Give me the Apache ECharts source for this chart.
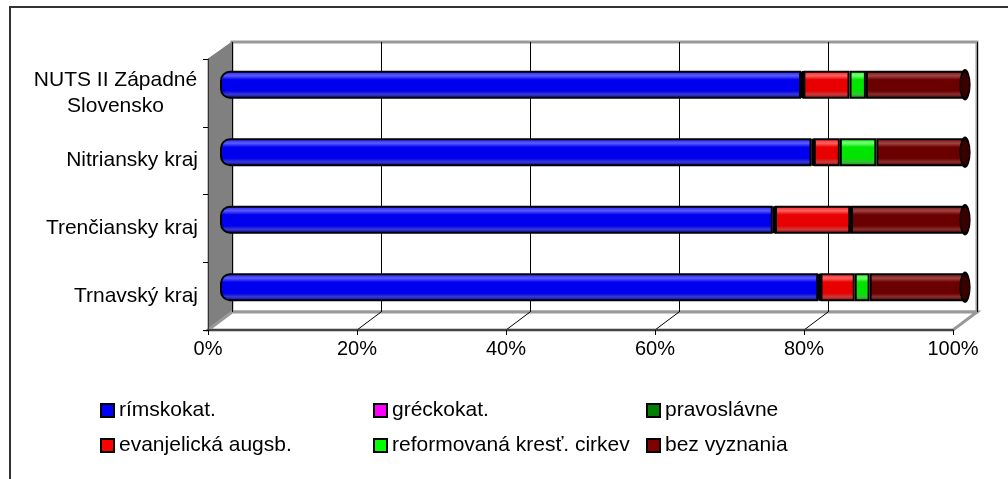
<!DOCTYPE html>
<html>
<head>
<meta charset="utf-8">
<script src="https://cdn.jsdelivr.net/npm/echarts@6/dist/echarts.min.js"></script>
<style>
html, body { margin: 0; padding: 0; background: #fff; }
#view { width: 1008px; height: 479px; }
</style>
</head>
<body>
<div id="view"></div>
<script>
var myChart = echarts.init(document.getElementById('view'));

// bottom to top, as the category axis draws them
var categories = ['Trnavský kraj', 'Trenčiansky kraj', 'Nitriansky kraj', 'NUTS II Západné\nSlovensko'];
var seriesNames = ['rímskokat.', 'gréckokat.', 'pravoslávne', 'evanjelická augsb.', 'reformovaná kresť. cirkev', 'bez vyznania'];
var rimskokat = [80.3, 74.2, 79.4, 78.0];
var greckokat = [0.2, 0.2, 0.2, 0.2];
var pravoslavne = [0.1, 0.1, 0.1, 0.1];
var evanjelicka = [4.6, 10.1, 3.5, 6.2];
var reformovana = [2.0, 0.1, 4.9, 2.2];
var bezVyznania = [12.8, 15.3, 11.9, 13.3];
var xTicks = [0, 20, 40, 60, 80, 100];

var values = [rimskokat, greckokat, pravoslavne, evanjelicka, reformovana, bezVyznania];

// 100% stacking
var totals = categories.map(function (c, i) {
    var s = 0;
    for (var k = 0; k < values.length; k++) s += values[k][i];
    return s;
});

var palette = [
    { flat: '#0000ff', edge: '#1a1aff', hi: '#5a5aff', base: '#0000ee', low: '#3a3acf', dark: '#0000a8' },
    { flat: '#ff00ff', edge: '#ff1aff', hi: '#ff6aff', base: '#e400e4', low: '#bf3abf', dark: '#9a009a' },
    { flat: '#008000', edge: '#0a8a0a', hi: '#3aa03a', base: '#007000', low: '#2a7a2a', dark: '#004a00' },
    { flat: '#ff0000', edge: '#ff1a1a', hi: '#ff6060', base: '#e80000', low: '#c83c3c', dark: '#a00000' },
    { flat: '#00ff00', edge: '#1aff1a', hi: '#70ff70', base: '#00e400', low: '#38bf38', dark: '#009a00' },
    { flat: '#800000', edge: '#7a0a0a', hi: '#a04444', base: '#6a0000', low: '#8a2e2e', dark: '#420000' }
];

function cyl(c) {
    return new echarts.graphic.LinearGradient(0, 0, 0, 1, [
        { offset: 0, color: c.edge },
        { offset: 0.18, color: c.hi },
        { offset: 0.32, color: c.base },
        { offset: 0.72, color: c.base },
        { offset: 0.84, color: c.low },
        { offset: 1, color: c.dark }
    ]);
}

var font = 'Liberation Sans';

var series = [];
for (var k = 0; k < seriesNames.length; k++) {
    var radius = 0;
    if (k == 0) radius = [9, 0, 0, 9];
    series.push({
        name: seriesNames[k],
        type: 'bar',
        stack: 'total',
        xAxisIndex: 1,
        yAxisIndex: 1,
        barWidth: 28,
        itemStyle: {
            color: cyl(palette[k]),
            borderColor: '#000',
            borderWidth: 2,
            borderRadius: radius
        },
        data: values[k].map(function (v, i) {
            return +(v * 100 / totals[i]).toFixed(3);
        })
    });
}

// end cap of each cylinder
series.push({
    type: 'scatter',
    xAxisIndex: 1,
    yAxisIndex: 1,
    symbol: 'circle',
    symbolSize: [10, 28],
    z: 5,
    silent: true,
    itemStyle: { color: '#3a0000', opacity: 1, borderColor: '#000', borderWidth: 2 },
    data: categories.map(function (c, i) { return [100, i]; })
});

var legendLeft = [100, 373, 646, 100, 373, 646];
var legendTop = [400, 400, 400, 435, 435, 435];
var legends = seriesNames.map(function (n, k) {
    return {
        left: legendLeft[k],
        top: legendTop[k],
        padding: 0,
        selectedMode: false,
        icon: 'rect',
        itemWidth: 13,
        itemHeight: 13,
        itemStyle: { borderColor: '#000', borderWidth: 2 },
        textStyle: { fontFamily: font, fontSize: 21, color: '#000' },
        data: [{ name: n, itemStyle: { color: palette[k].flat, borderColor: '#000', borderWidth: 2 } }]
    };
});

// the two-line label is centred line by line, as in the original
var labelData = categories.map(function (c) {
    if (c.indexOf('\n') >= 0) {
        return { value: c, textStyle: { align: 'center', padding: [0, 165, 0, 0] } };
    }
    return c;
});

var option = {
    animation: false,
    backgroundColor: '#fff',
    legend: legends,
    grid: [
        // back wall
        { left: 232, right: 1008 - 977, top: 42, bottom: 479 - 312 },
        // bars (middle depth)
        { left: 220, right: 1008 - 965, top: 51, bottom: 479 - 321 },
        // front edge with the labels
        { left: 208, right: 1008 - 953, top: 59, bottom: 479 - 330 }
    ],
    xAxis: [
        {
            gridIndex: 0, type: 'value', min: 0, max: 100, interval: 20,
            axisLine: { show: false }, axisTick: { show: false }, axisLabel: { show: false },
            splitLine: { show: true, lineStyle: { color: '#000', width: 1 } }
        },
        {
            gridIndex: 1, type: 'value', min: 0, max: 100, show: false
        },
        {
            gridIndex: 2, type: 'value', min: 0, max: 100, interval: 20,
            axisLine: { show: true, lineStyle: { color: '#444', width: 2 } },
            axisTick: { show: true, length: 5, lineStyle: { color: '#000', width: 1 } },
            splitLine: { show: false },
            axisLabel: {
                margin: 9,
                fontFamily: font, fontSize: 20, color: '#000',
                formatter: function (v) { return xTicks.indexOf(v) >= 0 ? v + '%' : ''; }
            }
        }
    ],
    yAxis: [
        { gridIndex: 0, type: 'category', data: categories, show: false },
        { gridIndex: 1, type: 'category', data: categories, show: false },
        {
            gridIndex: 2, type: 'category', data: labelData,
            axisLine: { show: true, lineStyle: { color: '#333', width: 1 } },
            axisTick: { show: true, length: 5, lineStyle: { color: '#000' } },
            axisLabel: { margin: 10, fontFamily: font, fontSize: 21, color: '#000', lineHeight: 26 }
        }
    ],
    series: series
};

myChart.setOption(option);

// 3D frame: side wall, floor and the floor lines that join back and front ticks
var backX = xTicks.map(function (v) { return myChart.convertToPixel({ xAxisIndex: 0 }, v); });
var frontX = xTicks.map(function (v) { return myChart.convertToPixel({ xAxisIndex: 2 }, v); });
var yBackTop = 42, yBackBot = 312, yFrontTop = 59, yFrontBot = 330;

var graphics = [
    {
        type: 'rect', z: -10,
        shape: { x: 10, y: 7, width: 1010, height: 490 },
        style: { fill: '#fff', stroke: '#333', lineWidth: 2 }
    },
    {
        type: 'rect', z: -5,
        shape: { x: backX[0], y: yBackTop, width: backX[5] - backX[0], height: yBackBot - yBackTop },
        style: { fill: '#fff', stroke: '#999', lineWidth: 3 }
    },
    {
        type: 'polygon', z: -4,
        shape: { points: [[frontX[0], yFrontTop], [backX[0], yBackTop], [backX[0], yBackBot], [frontX[0], yFrontBot]] },
        style: { fill: '#808080', stroke: '#808080', lineWidth: 1 }
    },
    {
        type: 'polygon', z: -4,
        shape: { points: [[frontX[0], yFrontBot], [backX[0], yBackBot], [backX[5], yBackBot], [frontX[5], yFrontBot]] },
        style: { fill: '#fff', stroke: '#999', lineWidth: 3 }
    }
];
for (var t = 1; t < xTicks.length - 1; t++) {
    graphics.push({
        type: 'line', z: -3,
        shape: { x1: backX[t], y1: yBackBot, x2: frontX[t], y2: yFrontBot },
        style: { stroke: '#000', lineWidth: 1 }
    });
}
myChart.setOption({ graphic: graphics });
</script>
</body>
</html>
